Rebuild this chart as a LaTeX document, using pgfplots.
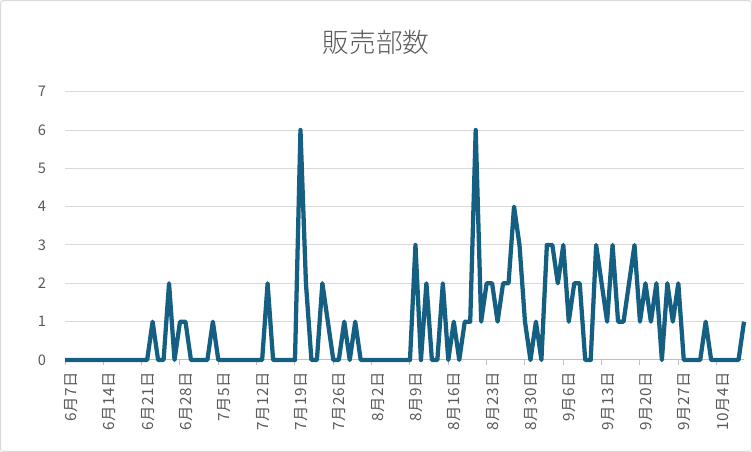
\documentclass[border=0pt]{standalone}
\usepackage{pgfplots}
\pgfplotsset{compat=1.18}
\usepackage{fontspec}
\setmainfont{Noto Sans CJK JP}
\newfontfamily\labelfont[LetterSpace=5]{Noto Sans CJK JP}
\newfontfamily\titlefont{Noto Sans CJK JP Light}
\definecolor{linec}{HTML}{156082}
\definecolor{gridc}{HTML}{D9D9D9}
\definecolor{txt}{HTML}{595959}
\definecolor{tickc}{HTML}{BFBFBF}
\begin{document}
\begin{tikzpicture}[x=1pt,y=1pt]
\path[use as bounding box] (0,0) rectangle (564,339);
\draw[gridc, line width=0.75pt, rounded corners=2pt] (0.4,0.4) rectangle (563.6,338.6);
\node[txt, font=\titlefont\fontsize{20}{24}\selectfont] at (282,307.5) {販売部数};
\begin{axis}[
  at={(48.75pt,69pt)}, anchor=south west,
  width=509.25pt, height=201.25pt, scale only axis,
  xmin=0, xmax=124, ymin=0, ymax=7,
  separate axis lines,
  axis x line*=bottom, axis y line*=left,
  x axis line style={tickc, line width=0.75pt, -},
  y axis line style={draw=none},
  xtick={0,7,...,119},
  xticklabels={6月7日,6月14日,6月21日,6月28日,7月5日,7月12日,7月19日,7月26日,8月2日,8月9日,8月16日,8月23日,8月30日,9月6日,9月13日,9月20日,9月27日,10月4日},
  ytick={0,1,...,7},
  ymajorgrids, grid style={gridc, line width=0.75pt},
  tick align=outside,
  major tick length=3.75pt,
  xtick style={tickc, line width=0.75pt},
  ytick style={draw=none},
  tick label style={txt},
  xticklabel style={font=\labelfont\fontsize{11.5}{13}\selectfont, rotate=90, anchor=east, yshift=-4.5pt, xshift=-1.5pt},
  yticklabel style={font=\fontsize{11}{13}\selectfont, xshift=-7pt},
  /pgf/number format/assume math mode=true,
  clip=false,
]
\addplot[linec, line width=3.2pt, line join=round, mark=none] coordinates {
(0,0)(1,0)(2,0)(3,0)(4,0)(5,0)(6,0)(7,0)(8,0)(9,0)(10,0)(11,0)(12,0)(13,0)(14,0)(15,0)
(16,1)(17,0)(18,0)(19,2)(20,0)(21,1)(22,1)(23,0)(24,0)(25,0)(26,0)(27,1)(28,0)
(29,0)(30,0)(31,0)(32,0)(33,0)(34,0)(35,0)(36,0)(37,2)(38,0)(39,0)(40,0)(41,0)(42,0)
(43,6)(44,2)(45,0)(46,0)(47,2)(48,1)(49,0)(50,0)(51,1)(52,0)(53,1)
(54,0)(55,0)(56,0)(57,0)(58,0)(59,0)(60,0)(61,0)(62,0)(63,0)
(64,3)(65,0)(66,2)(67,0)(68,0)(69,2)(70,0)(71,1)(72,0)(73,1)(74,1)(75,6)(76,1)
(77,2)(78,2)(79,1)(80,2)(81,2)(82,4)(83,3)(84,1)(85,0)(86,1)(87,0)(88,3)(89,3)
(90,2)(91,3)(92,1)(93,2)(94,2)(95,0)(96,0)(97,3)(98,2)(99,1)(100,3)(101,1)(102,1)
(103,2)(104,3)(105,1)(106,2)(107,1)(108,2)(109,0)(110,2)(111,1)(112,2)
(113,0)(114,0)(115,0)(116,0)(117,1)(118,0)(119,0)(120,0)(121,0)(122,0)(123,0)(124,1)
};
\end{axis}
\end{tikzpicture}
\end{document}
